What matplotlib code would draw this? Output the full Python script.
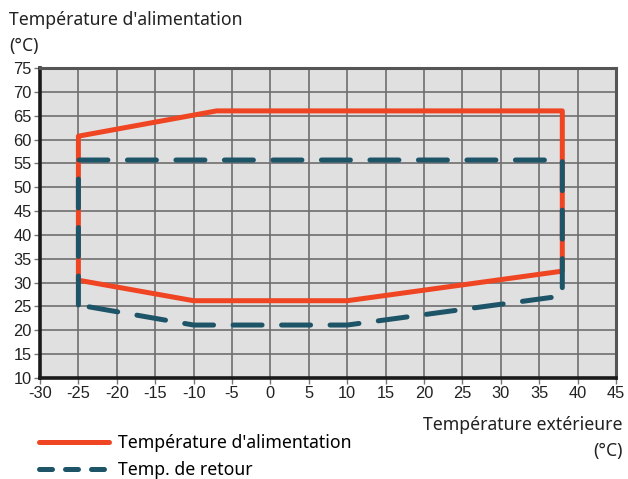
import matplotlib
matplotlib.use("Agg")
import matplotlib.pyplot as plt
from matplotlib.lines import Line2D

plt.rcParams["axes.unicode_minus"] = False

# supply temperature envelope (outdoor temp, flow temp)
supply_x = [-25, -25, -7, 38, 38, 10, -10, -25]
supply_y = [30.5, 60.7, 66, 66, 32.4, 26.2, 26.2, 30.5]

# return temperature envelope
return_x = [-25, -25, 38, 38, 10, -10, -25]
return_y = [25.3, 55.7, 55.7, 27.2, 21.1, 21.1, 25.3]

x_ticks = list(range(-30, 50, 5))
y_ticks = list(range(10, 80, 5))

RED = "#f04523"
BLUE = "#1e5468"
LABEL_FONT = "Noto Sans"
TICK_FONT = "Liberation Sans"

fig = plt.figure(figsize=(6.28, 4.79), dpi=100)
ax = fig.add_axes([0.0637, 0.2109, 0.9173, 0.6472])
ax.set_facecolor("#e0e0e0")

ax.plot(supply_x, supply_y, color=RED, lw=3.6, solid_joinstyle="round",
        solid_capstyle="round", zorder=3)
ax.plot(return_x, return_y, color=BLUE, lw=3.6, dashes=(5.8, 3.9),
        dash_capstyle="round", dash_joinstyle="round", zorder=4)

ax.set_xlim(-30, 45)
ax.set_ylim(10, 75)
ax.set_xticks(x_ticks)
ax.set_yticks(y_ticks)
ax.grid(True, color="#6e6e6e", lw=1.2, zorder=1)
ax.set_axisbelow(True)
ax.tick_params(length=4, width=1, color="#777777", pad=2, labelsize=11.8,
               labelcolor="#222222")
for lbl in ax.get_xticklabels() + ax.get_yticklabels():
    lbl.set_family(TICK_FONT)

for side in ("left", "bottom"):
    ax.spines[side].set_color("#1a1a1a")
    ax.spines[side].set_linewidth(2.6)
for side in ("top", "right"):
    ax.spines[side].set_color("#555555")
    ax.spines[side].set_linewidth(2.2)

fig.text(0.014, 0.977, "Température d'alimentation\n(°C)", ha="left", va="top",
         fontsize=12.7, family=LABEL_FONT, color="#222222", linespacing=1.6)
fig.text(0.992, 0.132, "Température extérieure\n(°C)", ha="right", va="top",
         fontsize=12.7, family=LABEL_FONT, color="#222222", linespacing=1.6,
         multialignment="right")

handles = [
    Line2D([], [], color=RED, lw=3.6, solid_capstyle="round"),
    Line2D([], [], color=BLUE, lw=3.6, dashes=(2.6, 2.6), dash_capstyle="round"),
]
fig.legend(handles, ["Température d'alimentation", "Temp. de retour"],
           loc="upper left", bbox_to_anchor=(0.062, 0.094), frameon=False,
           prop={"family": LABEL_FONT, "size": 12.7}, handlelength=4.0,
           handletextpad=0.5, labelspacing=0.5, borderpad=0, borderaxespad=0)

fig.savefig("out.png", dpi=100)
